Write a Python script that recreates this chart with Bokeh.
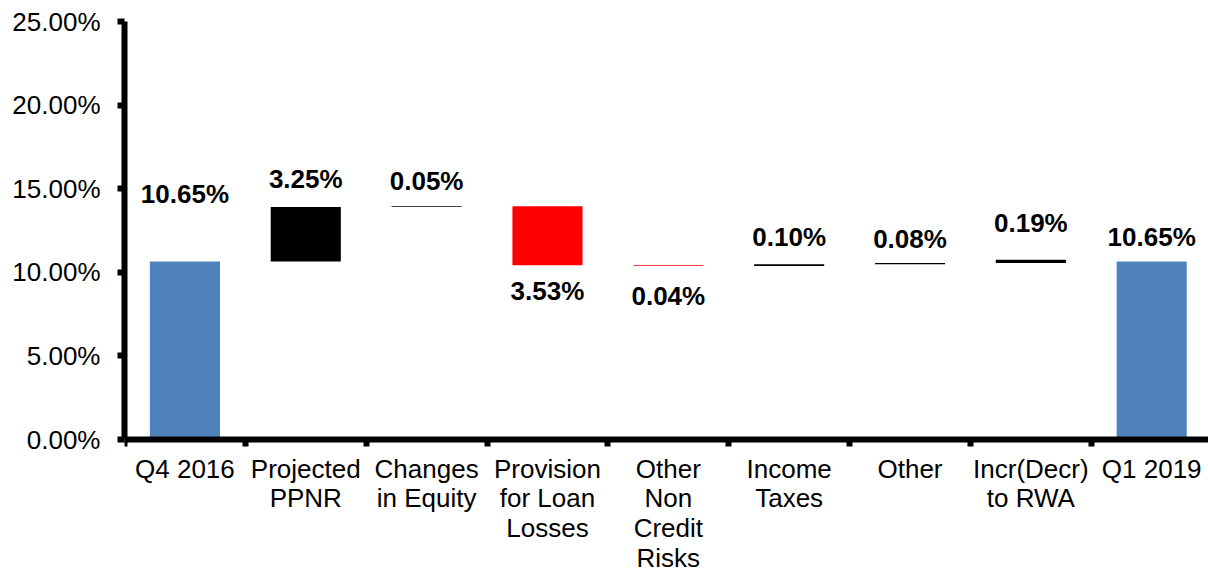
from bokeh.plotting import figure
from bokeh.models import Range1d, FixedTicker, PrintfTickFormatter, ColumnDataSource
from bokeh.core.properties import value
from bokeh.embed import file_html
from bokeh.resources import INLINE

# ---- data ----
categories = ["Q4 2016", "Projected\nPPNR", "Changes\nin Equity", "Provision\nfor Loan\nLosses",
              "Other\nNon\nCredit\nRisks", "Income\nTaxes", "Other", "Incr(Decr)\nto RWA", "Q1 2019"]
start_value = 10.65
changes = [3.25, 0.05, -3.53, -0.04, 0.10, 0.08, 0.19]
end_value = 10.65
y_ticks = [0, 5, 10, 15, 20, 25]

# ---- styles / layout ----
BLUE = "#4F81BD"
FONT = "Liberation Sans"
label_offsets = [67, 28, 25, 26, 30, 27, 24, 37, 24]  # px distance of value labels from bar edge

# ---- build waterfall ----
xs = [i + 0.5 for i in range(len(categories))]
bottoms, tops, colors, values = [0], [start_value], [BLUE], [start_value]
level = start_value
for c in changes:
    new = level + c
    bottoms.append(min(level, new))
    tops.append(max(level, new))
    colors.append("black" if c >= 0 else "#FF0000")
    values.append(c)
    level = new
bottoms.append(0)
tops.append(end_value)
colors.append(BLUE)
values.append(end_value)

label_y, label_off, label_txt = [], [], []
for b, t, v, off in zip(bottoms, tops, values, label_offsets):
    if v >= 0:
        label_y.append(t)
        label_off.append(-off)
    else:
        label_y.append(b)
        label_off.append(off)
    label_txt.append(f"{abs(v):.2f}%")

src = ColumnDataSource(dict(x=xs, bottom=bottoms, top=tops, color=colors,
                            ly=label_y, loff=label_off, txt=label_txt))

# frame extends below zero so the category labels have room; axes are bounded
p = figure(width=1208, height=573, x_range=Range1d(0, 8.97), y_range=Range1d(-8.01, 25),
           output_backend="svg", toolbar_location=None,
           min_border_left=124, min_border_right=0, min_border_top=21, min_border_bottom=0)
p.outline_line_color = None
p.xgrid.grid_line_color = None
p.ygrid.grid_line_color = None
p.background_fill_color = "white"
p.border_fill_color = "white"

p.vbar(x="x", bottom="bottom", top="top", width=0.58, color="color", line_color=None, source=src)
p.text(x="x", y="ly", text="txt", y_offset="loff", source=src,
       text_font=value(FONT), text_font_style="bold", text_font_size="26px",
       text_align="center", text_baseline="middle", text_color="black")

# y axis
ya = p.yaxis[0]
ya.bounds = (y_ticks[0], y_ticks[-1])
ya.ticker = FixedTicker(ticks=y_ticks, minor_ticks=[])
ya.formatter = PrintfTickFormatter(format="%.2f%%")
ya.axis_line_width = 6
ya.axis_line_color = "black"
ya.major_tick_line_width = 6
ya.major_tick_out = 7
ya.major_tick_in = 0
ya.major_label_standoff = 17
ya.major_label_text_font = FONT
ya.major_label_text_font_size = "26px"
ya.major_label_text_color = "black"

# x axis at zero: labels at category centres, tick marks at category boundaries
xa = p.xaxis[0]
xa.fixed_location = 0
xa.ticker = FixedTicker(ticks=xs, minor_ticks=list(range(len(categories) + 1)))
xa.major_label_overrides = {x: c for x, c in zip(xs, categories)}
xa.axis_line_width = 6
xa.axis_line_color = "black"
xa.major_tick_line_color = None
xa.major_tick_out = 0
xa.major_tick_in = 0
xa.minor_tick_line_color = "black"
xa.minor_tick_line_width = 6
xa.minor_tick_out = 7
xa.minor_tick_in = 0
xa.major_label_standoff = 7
xa.major_label_text_font = FONT
xa.major_label_text_font_size = "26px"
xa.major_label_text_line_height = 0.99
xa.major_label_text_color = "black"

open("out.html", "w").write(file_html(p, INLINE))
